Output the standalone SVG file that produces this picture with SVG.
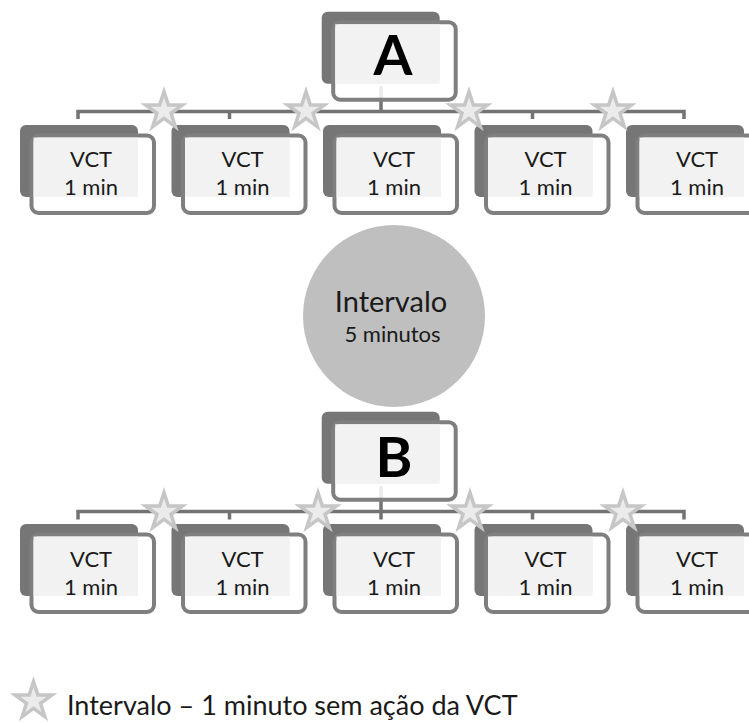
<svg xmlns="http://www.w3.org/2000/svg" xmlns:xlink="http://www.w3.org/1999/xlink" width="749" height="723" viewBox="0 0 749 723">
  <style>
    .back { fill: #767676; }
    .front { fill: #ffffff; fill-opacity: 0.85; stroke: #7f7f7f; stroke-width: 4; }
    .face { fill: #f2f2f2; }
    .lbl { font-family: Lato, "Liberation Sans", sans-serif; font-size: 22px; fill: #1a1a1a; text-anchor: middle; }
    .big { font-family: Lato, "Liberation Sans", sans-serif; font-size: 56px; font-weight: bold; fill: #000000; text-anchor: middle; }
    .pause { font-family: Lato, "Liberation Sans", sans-serif; fill: #1a1a1a; text-anchor: middle; }
    .legend { font-family: Lato, "Liberation Sans", sans-serif; font-size: 27px; fill: #1a1a1a; }
    .wire { fill: none; stroke: #737373; stroke-width: 3.5; }
    .star-out { fill: #c6c6c6; }
    .star-in { fill: #ebebeb; }
  </style>
  <defs>
    <!-- box: dark backing card, outlined front card, light face -->
    <g id="card">
      <rect class="back" x="0" y="0" width="118" height="72" rx="6"/>
      <rect class="front" x="11.5" y="10.5" width="122.5" height="77.5" rx="7"/>
      <rect class="face" x="13.5" y="12.5" width="104.5" height="59.5"/>
    </g>
    <path id="starShape" d="M0,-25 L5.61,-7.73 L23.78,-7.73 L9.08,2.95 L14.69,20.23 L0,9.55 L-14.69,20.23 L-9.08,2.95 L-23.78,-7.73 L-5.61,-7.73 Z"/>
    <g id="star">
      <use xlink:href="#starShape" class="star-out"/>
      <use xlink:href="#starShape" class="star-in" transform="scale(0.55)"/>
    </g>
  </defs>

  <!-- connectors -->
  <g id="connectors">
    <path class="wire" d="M381,86 V111.5 M78,119 V111.5 H684 V119 M229.5,111.5 V119 M532.5,111.5 V119"/>
    <path class="wire" d="M381,486 V511.5 M78,519.5 V511.5 H684 V519.5 M229.5,511.5 V519.5 M381,511.5 V519.5 M532.5,511.5 V519.5"/>
  </g>

  <!-- session A -->
  <g id="nodeA">
    <use xlink:href="#card" x="321.7" y="11.7"/>
    <text class="big" x="393" y="75">A</text>
  </g>
  <g id="a1"><use xlink:href="#card" x="20" y="125"/><text class="lbl" x="91" y="167">VCT</text><text class="lbl" x="91" y="195">1 min</text></g>
  <g id="a2"><use xlink:href="#card" x="171.5" y="125"/><text class="lbl" x="242.5" y="167">VCT</text><text class="lbl" x="242.5" y="195">1 min</text></g>
  <g id="a3"><use xlink:href="#card" x="323" y="125"/><text class="lbl" x="394" y="167">VCT</text><text class="lbl" x="394" y="195">1 min</text></g>
  <g id="a4"><use xlink:href="#card" x="474.5" y="125"/><text class="lbl" x="545.5" y="167">VCT</text><text class="lbl" x="545.5" y="195">1 min</text></g>
  <g id="a5"><use xlink:href="#card" x="626" y="125"/><text class="lbl" x="697" y="167">VCT</text><text class="lbl" x="697" y="195">1 min</text></g>

  <!-- pauses between A tasks -->
  <g id="starsA">
    <use xlink:href="#star" x="164" y="111"/>
    <use xlink:href="#star" x="306" y="111"/>
    <use xlink:href="#star" x="469" y="111"/>
    <use xlink:href="#star" x="613" y="111"/>
  </g>

  <!-- rest between sessions -->
  <g id="rest">
    <circle cx="394" cy="316" r="91" fill="#bfbfbf"/>
    <text class="pause" x="391" y="312" font-size="29">Intervalo</text>
    <text class="pause" x="392.5" y="342" font-size="22">5 minutos</text>
  </g>

  <!-- session B -->
  <g id="nodeB">
    <use xlink:href="#card" x="321.7" y="411.7"/>
    <text class="big" x="394" y="477">B</text>
  </g>
  <g id="b1"><use xlink:href="#card" x="20" y="524"/><text class="lbl" x="91" y="567">VCT</text><text class="lbl" x="91" y="595">1 min</text></g>
  <g id="b2"><use xlink:href="#card" x="171.5" y="524"/><text class="lbl" x="242.5" y="567">VCT</text><text class="lbl" x="242.5" y="595">1 min</text></g>
  <g id="b3"><use xlink:href="#card" x="323" y="524"/><text class="lbl" x="394" y="567">VCT</text><text class="lbl" x="394" y="595">1 min</text></g>
  <g id="b4"><use xlink:href="#card" x="474.5" y="524"/><text class="lbl" x="545.5" y="567">VCT</text><text class="lbl" x="545.5" y="595">1 min</text></g>
  <g id="b5"><use xlink:href="#card" x="626" y="524"/><text class="lbl" x="697" y="567">VCT</text><text class="lbl" x="697" y="595">1 min</text></g>

  <g id="starsB">
    <use xlink:href="#star" x="164" y="512"/>
    <use xlink:href="#star" x="318" y="512"/>
    <use xlink:href="#star" x="470" y="512"/>
    <use xlink:href="#star" x="623" y="512"/>
  </g>

  <!-- legend -->
  <g id="legend">
    <use xlink:href="#star" x="33.5" y="701"/>
    <text class="legend" x="67" y="715">Intervalo – 1 minuto sem ação da VCT</text>
  </g>
</svg>
